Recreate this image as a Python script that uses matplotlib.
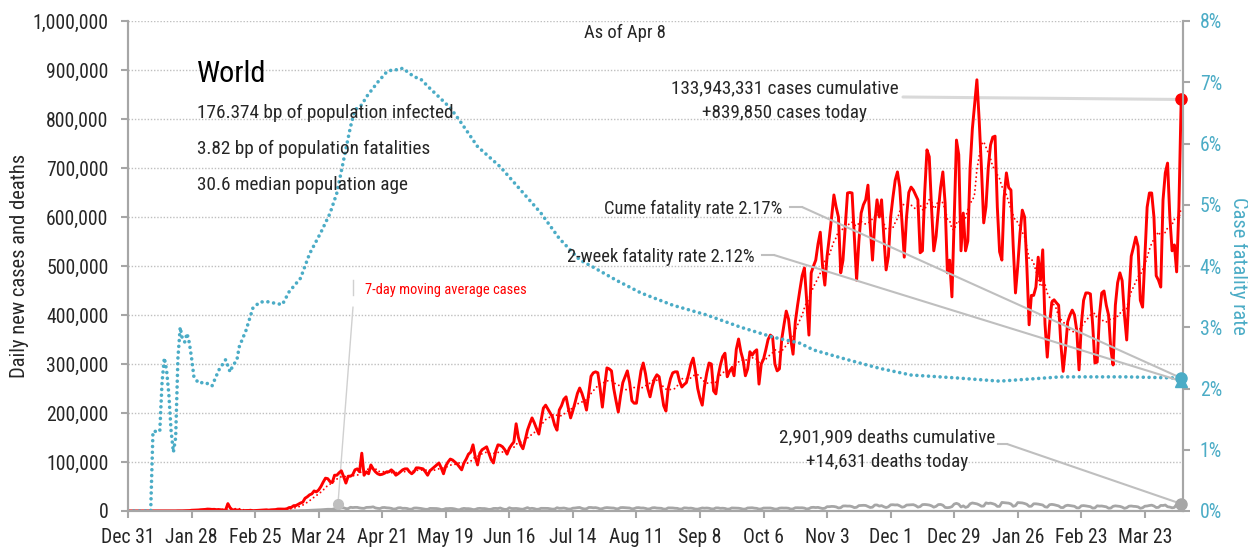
import matplotlib
matplotlib.use("Agg")
import matplotlib.pyplot as plt
from matplotlib import font_manager
from matplotlib.lines import Line2D
import numpy as np
import pandas as pd

W, H = 1248, 548

start = pd.Timestamp('2019-12-31')

# daily new cases, thousands, one row per week (Tue..Mon) starting Dec 31 2019
cases_k = [
    0, 0, 0, 0, 0, 0, 0,
    0, 0, 0, 0, 0, 0, 0,
    0, 0, 0, 0, 0, 0, 0.1,
    0.1, 0.3, 0.2, 0.3, 0.6, 0.7, 0.8,
    1.5, 1.7, 2.0, 2.1, 2.6, 2.8, 3.2,
    3.9, 3.7, 3.2, 3.4, 2.7, 3.0, 2.5,
    2.0, 1.8, 15.1, 6.5, 2.1, 2.6, 2.0,
    1.9, 0.5, 0.6, 1.0, 1.0, 1.5, 0.6,
    0.9, 1.0, 1.4, 1.8, 1.9, 2.4, 1.8,
    2.4, 2.6, 2.9, 3.9, 4.0, 3.8, 3.8,
    4.6, 7.0, 7.5, 10.9, 11.1, 13.8, 16.3,
    18, 26, 29, 33, 35, 41, 39,
    43, 50, 59, 67, 66, 60, 58,
    73, 73, 78, 82, 70, 57, 71,
    71, 74, 84, 86, 80, 118, 73,
    80, 76, 94, 86, 80, 76, 74,
    75, 77, 80, 80, 84, 80, 73,
    76, 80, 84, 86, 86, 80, 76,
    80, 88, 88, 87, 86, 80, 73,
    82, 86, 90, 94, 98, 88, 76,
    92, 100, 106, 104, 100, 96, 90,
    84, 98, 106, 116, 120, 135, 110,
    94, 118, 125, 128, 131, 118, 105,
    98, 122, 135, 134, 131, 125, 116,
    128, 135, 141, 178, 150, 135, 127,
    145, 165, 178, 190, 180, 168, 157,
    185, 210, 216, 208, 200, 192, 175,
    165, 206, 215, 228, 233, 210, 190,
    205, 222, 240, 251, 240, 225, 206,
    240, 275, 282, 284, 282, 250, 212,
    255, 292, 290, 286, 250, 225, 202,
    235, 262, 274, 286, 262, 225, 220,
    220, 255, 286, 302, 280, 250, 233,
    255, 270, 278, 274, 245, 215, 204,
    250, 270, 282, 284, 284, 265, 253,
    258, 262, 280, 300, 312, 285, 250,
    230, 216, 255, 282, 302, 300, 245,
    239, 275, 298, 315, 322, 274, 285,
    292, 276, 330, 351, 325, 308, 276,
    290, 325, 318, 325, 329, 259, 300,
    310, 329, 350, 359, 355, 300, 286,
    290, 350, 380, 408, 392, 350, 320,
    386, 420, 451, 480, 496, 430, 359,
    486, 500, 512, 545, 569, 500, 461,
    520, 559, 600, 645, 620, 600, 486,
    512, 580, 649, 650, 649, 560, 471,
    550, 608, 625, 635, 665, 580, 512,
    588, 635, 600, 635, 560, 492, 520,
    600, 640, 675, 692, 661, 590, 518,
    600, 650, 661, 655, 645, 635, 527,
    531, 650, 737, 723, 620, 531, 560,
    614, 660, 692, 628, 486, 512, 437,
    600, 757, 727, 531, 608, 531, 551,
    700, 780, 830, 880, 798, 700, 588,
    621, 700, 747, 763, 765, 620, 529,
    512, 640, 690, 660, 655, 540, 445,
    500, 567, 614, 600, 500, 380, 440,
    440, 457, 518, 470, 533, 382, 314,
    380, 426, 431, 425, 420, 340, 285,
    330, 386, 400, 410, 400, 368, 288,
    380, 430, 445, 445, 443, 380, 302,
    304, 400, 445, 449, 420, 400, 330,
    298, 420, 466, 486, 470, 400, 349,
    440, 520, 539, 559, 540, 430, 416,
    520, 620, 649, 649, 600, 480, 471,
    457, 635, 690, 710, 600, 531, 543,
    488, 620, 839.850,
]

# daily new deaths, thousands, same layout
deaths_k = [
    0, 0, 0, 0, 0, 0, 0,
    0, 0, 0, 0, 0, 0, 0,
    0, 0, 0, 0, 0, 0, 0,
    0, 0.01, 0.01, 0.01, 0.02, 0.02, 0.03,
    0.03, 0.03, 0.04, 0.04, 0.05, 0.05, 0.06,
    0.07, 0.07, 0.07, 0.09, 0.08, 0.1, 0.1,
    0.1, 0.1, 0.25, 0.14, 0.14, 0.14, 0.1,
    0.1, 0.13, 0.12, 0.1, 0.1, 0.15, 0.07,
    0.07, 0.05, 0.05, 0.05, 0.07, 0.06, 0.07,
    0.08, 0.08, 0.1, 0.1, 0.12, 0.1, 0.2,
    0.3, 0.3, 0.35, 0.35, 0.45, 0.4, 0.9,
    0.9, 1.0, 1.2, 1.4, 1.7, 1.7, 1.9,
    2.4, 2.5, 2.9, 3.5, 3.5, 3.4, 3.4,
    4.7, 5.0, 6.0, 6.4, 6.5, 4.9, 4.8,
    7.6, 7.0, 7.4, 7.4, 6.3, 5.6, 5.4,
    7.3, 7.5, 7.7, 8.5, 6.3, 5.4, 5.0,
    7.0, 7.2, 6.5, 6.2, 5.4, 3.9, 4.4,
    6.4, 6.7, 5.4, 5.6, 5.1, 3.6, 3.8,
    6.0, 6.2, 5.7, 5.2, 4.4, 3.5, 3.4,
    5.3, 5.3, 5.1, 5.0, 4.3, 2.9, 3.3,
    4.9, 4.9, 5.2, 5.0, 4.2, 2.9, 2.4,
    4.4, 5.3, 4.8, 4.8, 4.2, 2.9, 3.1,
    5.0, 5.4, 5.0, 5.0, 4.3, 3.2, 3.6,
    5.2, 5.3, 5.0, 6.2, 4.4, 3.2, 3.5,
    6.6, 5.1, 5.0, 5.2, 4.7, 3.9, 3.6,
    5.2, 6.9, 4.9, 5.5, 4.8, 3.4, 3.8,
    5.5, 5.5, 5.5, 5.3, 4.6, 3.8, 4.0,
    6.7, 5.5, 5.6, 6.1, 5.2, 4.0, 4.0,
    5.8, 6.1, 6.8, 7.2, 5.3, 4.2, 4.5,
    7.2, 7.2, 6.6, 6.9, 5.9, 4.2, 4.8,
    6.4, 7.0, 6.5, 6.2, 6.0, 4.6, 4.5,
    6.9, 7.1, 6.8, 6.3, 6.1, 4.4, 4.9,
    6.7, 6.9, 6.1, 6.2, 5.3, 4.0, 4.6,
    6.5, 6.8, 6.0, 5.8, 5.5, 3.9, 4.0,
    6.4, 6.3, 6.2, 5.6, 5.4, 4.0, 4.1,
    6.4, 6.2, 5.6, 5.9, 5.1, 3.9, 3.8,
    4.9, 6.2, 5.7, 6.1, 5.6, 4.4, 4.2,
    6.3, 6.3, 5.4, 5.7, 5.2, 3.8, 4.1,
    6.2, 6.0, 5.8, 5.7, 5.0, 3.8, 4.0,
    6.2, 6.3, 6.6, 5.8, 5.4, 3.9, 4.3,
    6.0, 6.0, 5.9, 6.1, 5.2, 3.9, 4.1,
    5.8, 6.2, 6.0, 6.1, 5.6, 3.9, 4.3,
    6.6, 6.7, 6.5, 6.6, 5.9, 4.1, 4.9,
    7.2, 7.5, 7.0, 7.4, 6.3, 5.0, 5.6,
    8.8, 8.8, 9.4, 9.2, 8.3, 6.2, 6.8,
    10.2, 10.4, 10.0, 10.1, 9.0, 6.9, 7.6,
    11.0, 11.3, 11.6, 11.3, 9.3, 7.2, 7.8,
    12.2, 12.3, 10.0, 11.0, 8.7, 7.0, 8.6,
    12.6, 12.8, 12.3, 12.6, 10.6, 7.8, 8.7,
    12.1, 12.5, 12.7, 12.9, 11.1, 7.9, 9.1,
    13.0, 13.3, 12.9, 12.2, 10.6, 7.8, 9.5,
    13.1, 13.4, 11.8, 7.3, 6.8, 7.3, 8.9,
    14.2, 15.6, 13.8, 8.2, 10.5, 7.3, 8.9,
    14.6, 16.4, 15.4, 14.6, 12.6, 9.8, 10.1,
    16.6, 15.4, 16.1, 14.9, 13.3, 9.4, 9.5,
    17.5, 16.9, 16.5, 16.0, 14.4, 9.6, 11.0,
    17.2, 16.9, 16.5, 15.3, 13.6, 9.5, 9.8,
    14.7, 14.7, 14.1, 13.2, 12.2, 8.5, 7.8,
    12.8, 13.5, 12.8, 11.6, 10.4, 7.1, 7.0,
    10.6, 11.8, 11.1, 10.4, 9.6, 6.4, 6.3,
    10.6, 11.0, 10.4, 9.5, 8.8, 5.9, 6.3,
    10.6, 10.0, 10.2, 9.3, 8.5, 5.7, 6.0,
    9.6, 10.5, 9.9, 9.4, 7.9, 5.4, 6.7,
    9.8, 10.2, 9.5, 9.2, 8.4, 5.5, 6.6,
    9.8, 10.2, 11.2, 11.9, 10.2, 7.1, 7.4,
    11.4, 11.2, 12.2, 8.7, 8.0, 6.5, 7.3,
    13.8, 14.6, 14.631,
]

# cumulative case fatality rate (%), read at these day numbers
cfr_day = [0, 10, 11, 12, 14, 15, 16, 17, 18, 19, 20, 21, 22, 23, 24, 25, 26, 27, 28, 29,
           31, 34, 37, 40, 43, 45, 46, 48, 49, 52, 55, 58, 61, 65, 68, 71, 76, 80, 85, 89,
           92, 95, 98, 100, 103, 105, 110, 114, 117, 119, 121, 126, 129, 133, 137, 142,
           146, 149, 154, 164, 173, 182, 190, 199, 205, 215, 226, 240, 255, 270, 284, 296,
           302, 317, 331, 345, 366, 384, 411, 440, 464]
cfr_pct = [0, 0, 1.3, 1.3, 1.3, 2.1, 2.5, 2.3, 1.9, 1.3, 0.96, 1.2, 2.5, 3.0, 2.8, 2.76, 2.9, 2.75, 2.5, 2.2,
           2.09, 2.1, 2.04, 2.3, 2.47, 2.27, 2.36, 2.47, 2.68, 2.95, 3.31, 3.41, 3.42, 3.39, 3.37, 3.58, 3.8, 4.2, 4.55, 4.86,
           5.19, 5.73, 6.27, 6.55, 6.63, 6.76, 7.0, 7.17, 7.21, 7.2, 7.23, 7.09, 7.05, 6.9, 6.76, 6.58,
           6.38, 6.22, 5.95, 5.62, 5.24, 4.86, 4.45, 4.1, 3.98, 3.77, 3.56, 3.36, 3.2, 3.0, 2.84, 2.74,
           2.63, 2.47, 2.33, 2.22, 2.17, 2.12, 2.19, 2.19, 2.17]

cume_cfr = 2.17
two_week_cfr = 2.12
ma_label_day, ma_label_value = 92.5, 14000

red = '#FF0000'
blue = '#4BACC6'
gray = '#A6A6A6'
ink = '#262626'

# the reference uses a narrow grotesque; take the narrowest installed face,
# and shrink sizes for wider faces so line lengths stay about the same
fonts = font_manager.fontManager.ttflist
narrow = {'condensed', 'semi-condensed', 'extra-condensed', 'ultra-condensed'}
choice = None
for fam, scale in [('Liberation Sans Narrow', 1.0), ('Roboto Condensed', 0.95),
                   ('Open Sans Condensed', 0.95), ('Noto Sans', 0.93), ('DejaVu Sans', 0.83)]:
    for f in fonts:
        if (f.name == fam and (fam in ('Liberation Sans Narrow', 'Roboto Condensed', 'Open Sans Condensed')
                               or f.stretch in narrow)):
            choice = (fam, f.stretch, scale)
            break
    if choice:
        break
if choice is None:
    choice = ('Liberation Sans', 'normal', 0.82)
plt.rcParams['font.family'] = [choice[0], 'DejaVu Sans']
plt.rcParams['font.stretch'] = choice[1]
fs = choice[2]

cases = np.array(cases_k) * 1000
deaths = np.array(deaths_k) * 1000
days = np.arange(len(cases))
ddays = np.arange(len(deaths))
ma7 = pd.Series(cases).rolling(7, min_periods=1).mean()


def fpx(x, y):
    return (x / W, 1 - y / H)


fig = plt.figure(figsize=(W / 100, H / 100), dpi=100)
ax = fig.add_axes([128 / W, 1 - 511 / H, (1183 - 128) / W, 490 / H])
ax2 = ax.twinx()

ax.set_xlim(0, 464.8)
ax.set_ylim(0, 1000000)
ax2.set_ylim(0, 8)

ax.set_yticks(np.arange(0, 1000001, 100000))
ax.set_yticklabels([f'{v:,.0f}' for v in np.arange(0, 1000001, 100000)])
ax2.set_yticks(np.arange(0, 9, 1))
ax2.set_yticklabels([f'{v}%' for v in range(9)])

xt = np.arange(0, 449, 28)
ax.set_xticks(xt)
ax.set_xticklabels([f'{d:%b} {d.day}' for d in (start + pd.to_timedelta(xt, unit='D'))])

for a in (ax, ax2):
    a.spines['top'].set_visible(False)
    for s in ('left', 'right', 'bottom'):
        a.spines[s].set_color(gray)
        a.spines[s].set_linewidth(1.5)
ax.tick_params(axis='both', colors=gray, length=5, width=1.5, labelsize=15 * fs, labelcolor=ink)
ax.tick_params(axis='y', pad=9)
ax.tick_params(axis='x', pad=7)
ax2.tick_params(axis='y', colors=gray, length=5, width=1.5, labelsize=15 * fs, labelcolor=blue, pad=7)

ax.yaxis.grid(True, color='#BFBFBF', linestyle=(0, (1, 1.3)), linewidth=1)
ax.set_axisbelow(True)

ax.plot(ddays, deaths, color=gray, lw=2, zorder=3)
ax.plot(days, ma7, color=red, lw=1.4, linestyle=(0, (0.01, 2.2)), dash_capstyle='round', zorder=4)
ax.plot(days, cases, color=red, lw=2.1, zorder=5)
ax2.plot(cfr_day, cfr_pct, color=blue, lw=2.6, linestyle=(0, (0.01, 1.6)), dash_capstyle='round', zorder=2)

# end-point markers
ax.plot(days[-1], cases[-1], 'o', color=red, ms=8, clip_on=False, zorder=6)
ax.plot(ddays[-1], deaths[-1], 'o', color=gray, ms=8, clip_on=False, zorder=6)
ax.plot(ma_label_day, ma_label_value, 'o', color='#BFBFBF', ms=7, clip_on=False, zorder=6)
ax2.plot(days[-1], two_week_cfr, '^', color=blue, ms=8, clip_on=False, zorder=6)
ax2.plot(days[-1], cume_cfr, 'o', color=blue, ms=8, clip_on=False, zorder=6)

# header text
fig.text(*fpx(197, 82), 'World', fontsize=23 * fs, color='black', va='baseline')
fig.text(*fpx(197, 118), '176.374 bp of population infected', fontsize=14.6 * fs, color=ink, va='baseline')
fig.text(*fpx(197, 154), '3.82 bp of population fatalities', fontsize=14.6 * fs, color=ink, va='baseline')
fig.text(*fpx(197, 190), '30.6 median population age', fontsize=14.6 * fs, color=ink, va='baseline')
fig.text(*fpx(625, 38), 'As of Apr 8', fontsize=14 * fs, color=ink, ha='center', va='baseline')

fig.text(*fpx(20, 266), 'Daily new cases and deaths', fontsize=15.5 * fs, color=ink, rotation=90,
         ha='center', va='center')
fig.text(*fpx(1239, 266), 'Case fatality rate', fontsize=15.5 * fs, color=blue, rotation=270,
         ha='center', va='center')

# annotations with leader lines
lead = dict(arrowstyle='-', shrinkA=0, shrinkB=0)


def stub(x1, y1, x2, y2, color, lw):
    fig.add_artist(Line2D([x1 / W, x2 / W], [1 - y1 / H, 1 - y2 / H], color=color, lw=lw,
                          transform=fig.transFigure))


fig.text(*fpx(785, 93), '133,943,331 cases cumulative', fontsize=14.5 * fs, color=ink, ha='center', va='baseline')
fig.text(*fpx(785, 118), f'+{cases[-1]:,.0f} cases today', fontsize=14.5 * fs, color=ink, ha='center', va='baseline')
ax.annotate('', xy=(days[-1], cases[-1]), xytext=fpx(903, 97), textcoords='figure fraction',
            arrowprops=dict(lead, color='#D9D9D9', lw=2.2))

fig.text(*fpx(782, 214), f'Cume fatality rate {cume_cfr:.2f}%', fontsize=14 * fs, color=ink, ha='right', va='baseline')
stub(790, 207, 802, 207, '#BFBFBF', 1.5)
ax2.annotate('', xy=(days[-1], cume_cfr), xytext=fpx(802, 207), textcoords='figure fraction',
             arrowprops=dict(lead, color='#BFBFBF', lw=1.5))

fig.text(*fpx(755, 262), f'2-week fatality rate {two_week_cfr:.2f}%', fontsize=14 * fs, color=ink, ha='right', va='baseline')
stub(762, 255, 774, 255, '#BFBFBF', 1.5)
ax2.annotate('', xy=(days[-1], two_week_cfr), xytext=fpx(774, 255), textcoords='figure fraction',
             arrowprops=dict(lead, color='#BFBFBF', lw=1.5))

fig.text(*fpx(887, 442), '2,901,909 deaths cumulative', fontsize=14.5 * fs, color=ink, ha='center', va='baseline')
fig.text(*fpx(887, 467), f'+{deaths[-1]:,.0f} deaths today', fontsize=14.5 * fs, color=ink, ha='center', va='baseline')
stub(998, 444, 1007, 444, '#BFBFBF', 1.5)
ax.annotate('', xy=(ddays[-1], deaths[-1]), xytext=fpx(1007, 444), textcoords='figure fraction',
            arrowprops=dict(lead, color='#BFBFBF', lw=1.5))

fig.text(*fpx(365, 294), '7-day moving average cases', fontsize=11 * fs, color=red, va='baseline')
stub(353, 280, 353, 295, '#D0D0D0', 1)
ax.annotate('', xy=(ma_label_day, ma_label_value), xytext=fpx(353, 307), textcoords='figure fraction',
            arrowprops=dict(lead, color='#D0D0D0', lw=1))

fig.savefig('out.png', dpi=100)
